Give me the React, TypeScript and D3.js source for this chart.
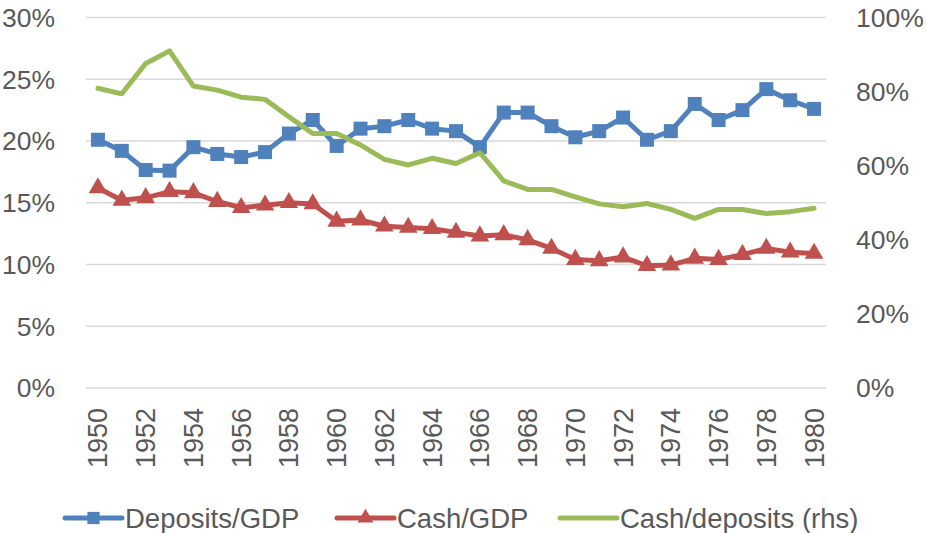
import React, { useEffect, useRef } from 'react';
import * as d3 from 'd3';

const years = d3.range(1950, 1981);
const depositsGdp = [20.1, 19.2, 17.65, 17.6, 19.5, 18.95, 18.7, 19.1, 20.6, 21.7, 19.6, 21.0, 21.2, 21.7, 21.0, 20.8, 19.5, 22.3, 22.3, 21.2, 20.3, 20.8, 21.9, 20.1, 20.8, 23.0, 21.7, 22.5, 24.2, 23.3, 22.6];
const cashGdp = [16.2, 15.2, 15.4, 15.9, 15.8, 15.1, 14.6, 14.8, 15.0, 14.9, 13.5, 13.6, 13.1, 13.0, 12.9, 12.6, 12.3, 12.4, 12.0, 11.3, 10.4, 10.3, 10.6, 9.9, 9.95, 10.5, 10.4, 10.8, 11.3, 11.0, 10.9];
const cashDeposits = [80.9, 79.4, 87.6, 91.0, 81.5, 80.4, 78.5, 77.9, 73.2, 68.7, 68.7, 65.6, 61.7, 60.2, 62.0, 60.6, 63.5, 55.9, 53.6, 53.6, 51.6, 49.7, 48.9, 49.8, 48.2, 45.8, 48.2, 48.2, 47.1, 47.6, 48.5];
const leftTicks = [0, 5, 10, 15, 20, 25, 30];
const rightTicks = [0, 20, 40, 60, 80, 100];

const BLUE = '#4f81bd';
const RED = '#c0504d';
const GREEN = '#9bbb59';
const TEXT = '#595959';
const FONT = '"Liberation Sans", Arial, sans-serif';

const App = () => {
  const svgRef = useRef(null);

  useEffect(() => {
    document.body.style.margin = '0';
    const width = 927;
    const height = 533;
    const svg = d3.select(svgRef.current)
      .attr('width', width)
      .attr('height', height)
      .style('display', 'block')
      .style('font-family', FONT);
    svg.selectAll('*').remove();

    const x = d3.scalePoint<number>().domain(years).range([86, 826]).padding(0.5);
    const yL = d3.scaleLinear().domain([0, 30]).range([388, 17.5]);
    const yR = d3.scaleLinear().domain([0, 100]).range([388, 17.5]);

    // gridlines
    svg.selectAll('line.grid')
      .data(leftTicks)
      .enter()
      .append('line')
      .attr('x1', 86)
      .attr('x2', 826)
      .attr('y1', d => yL(d))
      .attr('y2', d => yL(d))
      .style('stroke', '#d9d9d9')
      .style('stroke-width', 1.5);

    // left axis labels
    svg.selectAll('text.left')
      .data(leftTicks)
      .enter()
      .append('text')
      .attr('x', 55)
      .attr('y', d => yL(d))
      .attr('dy', '0.35em')
      .attr('text-anchor', 'end')
      .style('font-size', '26.5px')
      .style('fill', TEXT)
      .text(d => d + '%');

    // right axis labels
    svg.selectAll('text.right')
      .data(rightTicks)
      .enter()
      .append('text')
      .attr('x', 856)
      .attr('y', d => yR(d))
      .attr('dy', '0.35em')
      .attr('text-anchor', 'start')
      .style('font-size', '26.5px')
      .style('fill', TEXT)
      .text(d => d + '%');

    // year labels
    svg.selectAll('text.year')
      .data(years.filter(y => y % 2 === 0))
      .enter()
      .append('text')
      .attr('transform', d => `translate(${x(d)},408) rotate(-90)`)
      .attr('dy', '0.35em')
      .attr('text-anchor', 'end')
      .style('font-size', '27px')
      .style('fill', TEXT)
      .text(d => d);

    const lineL = d3.line<number>().x((d, i) => x(years[i])).y(d => yL(d));
    const lineR = d3.line<number>().x((d, i) => x(years[i])).y(d => yR(d));

    svg.append('path')
      .attr('d', lineL(depositsGdp))
      .style('fill', 'none')
      .style('stroke', BLUE)
      .style('stroke-width', 5)
      .style('stroke-linejoin', 'round');
    svg.selectAll('path.sq')
      .data(depositsGdp)
      .enter()
      .append('path')
      .attr('d', d3.symbol(d3.symbolSquare, 196)())
      .attr('transform', (d, i) => `translate(${x(years[i])},${yL(d)})`)
      .style('fill', BLUE);

    svg.append('path')
      .attr('d', lineL(cashGdp))
      .style('fill', 'none')
      .style('stroke', RED)
      .style('stroke-width', 5)
      .style('stroke-linejoin', 'round');
    svg.selectAll('path.tri')
      .data(cashGdp)
      .enter()
      .append('path')
      .attr('d', d3.symbol(d3.symbolTriangle, 150)())
      .attr('transform', (d, i) => `translate(${x(years[i])},${yL(d)})`)
      .style('fill', RED);

    svg.append('path')
      .attr('d', lineR(cashDeposits))
      .style('fill', 'none')
      .style('stroke', GREEN)
      .style('stroke-width', 5)
      .style('stroke-linejoin', 'round')
      .style('stroke-linecap', 'round');

    // legend
    const legend = [
      { name: 'Deposits/GDP', color: BLUE, x: 65, sym: d3.symbolSquare, size: 150 },
      { name: 'Cash/GDP', color: RED, x: 337, sym: d3.symbolTriangle, size: 110 },
      { name: 'Cash/deposits (rhs)', color: GREEN, x: 560, sym: null, size: 0 },
    ];
    const ly = 518;
    const lg = svg.selectAll('g.legend')
      .data(legend)
      .enter()
      .append('g')
      .attr('transform', d => `translate(${d.x},${ly})`);
    lg.append('line')
      .attr('x1', 0)
      .attr('x2', 57)
      .style('stroke', d => d.color)
      .style('stroke-width', 5)
      .style('stroke-linecap', 'round');
    lg.filter(d => d.sym !== null)
      .append('path')
      .attr('d', d => d3.symbol(d.sym, d.size)())
      .attr('transform', 'translate(28.5,0)')
      .style('fill', d => d.color);
    lg.append('text')
      .attr('x', 60)
      .attr('dy', '0.35em')
      .style('font-size', '27.5px')
      .style('fill', TEXT)
      .text(d => d.name);
  }, []);

  return (
    <svg ref={svgRef}></svg>
  );
};

export default App;
